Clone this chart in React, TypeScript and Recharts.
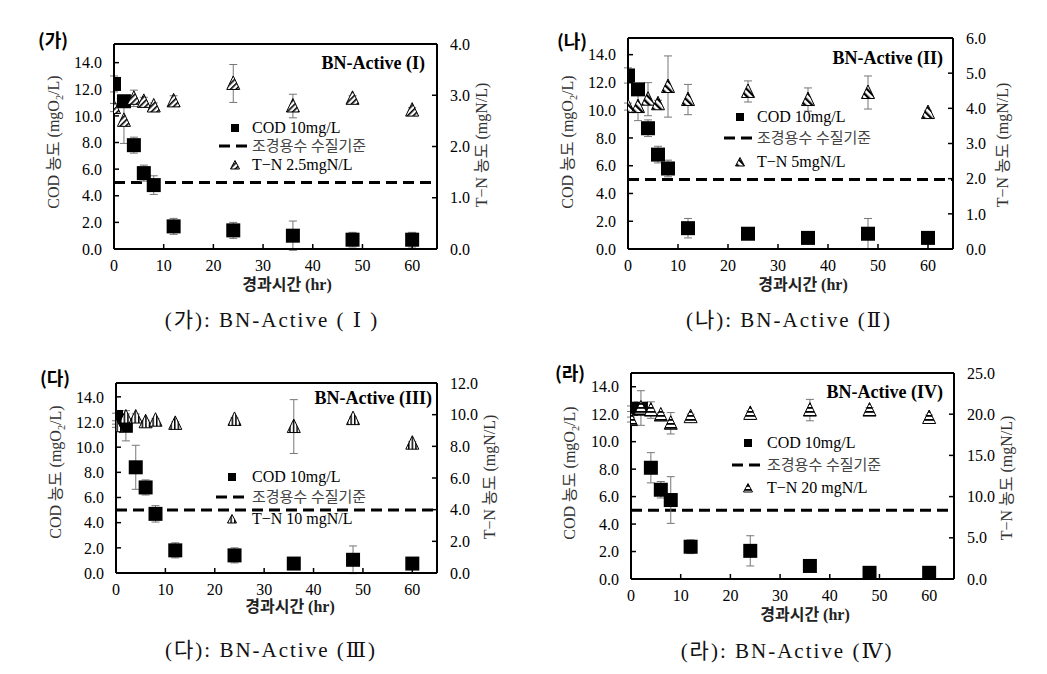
import React from 'react';
import { ScatterChart, Scatter, XAxis, YAxis, ErrorBar, ReferenceLine } from 'recharts';

// sampling times (hr)
const hours = [0, 2, 4, 6, 8, 12, 24, 36, 48, 60];
const xTicks = [0, 10, 20, 30, 40, 50, 60];
const codTicks = [0, 2, 4, 6, 8, 10, 12, 14];
const codLimit = 5; // 조경용수 수질기준

// (가) BN-Active (I)
const cod1 = [12.4, 11.1, 7.8, 5.7, 4.8, 1.7, 1.4, 1.0, 0.7, 0.7];
const cod1Err = [0.6, 0.3, 0.6, 0.6, 0.7, 0.6, 0.6, 1.1, 0.55, 0.55];
const tn1 = [2.76, 2.51, 2.94, 2.88, 2.79, 2.89, 3.23, 2.79, 2.94, 2.71];
const tn1Err = [0.08, 0.45, 0.16, 0.08, 0.06, 0.1, 0.37, 0.23, 0.05, 0.05];
const tn1Ticks = [0, 1, 2, 3, 4];

// (나) BN-Active (II)
const cod2 = [12.5, 11.5, 8.7, 6.8, 5.8, 1.5, 1.1, 0.8, 1.1, 0.8];
const cod2Err = [0.55, 0.3, 0.6, 0.6, 0.6, 0.7, 0.3, 0.3, 1.1, 0.3];
const tn2 = [4.05, 4.05, 4.26, 4.13, 4.62, 4.25, 4.48, 4.25, 4.45, 3.88];
const tn2Err = [0.1, 0.4, 0.47, 0.1, 0.87, 0.43, 0.3, 0.33, 0.47, 0.05];
const tn2Ticks = [0, 1, 2, 3, 4, 5, 6];

// (다) BN-Active (III)
const cod3 = [12.4, 11.7, 8.4, 6.8, 4.7, 1.8, 1.4, 0.75, 1.05, 0.75];
const cod3Err = [0.3, 1.2, 1.75, 0.6, 0.65, 0.6, 0.6, 0.2, 1.1, 0.2];
const tn3 = [9.3, 9.85, 9.85, 9.55, 9.65, 9.45, 9.7, 9.25, 9.75, 8.2];
const tn3Err = [0.1, 0.2, 0.2, 0.1, 0.1, 0.1, 0.1, 1.7, 0.1, 0.1];
const tn3Ticks = [0, 2, 4, 6, 8, 10, 12];

// (라) BN-Active (IV)
const cod4 = [12.4, 12.4, 8.1, 6.5, 5.75, 2.35, 2.05, 0.95, 0.45, 0.45];
const cod4Err = [0.2, 0.2, 1.1, 0.6, 1.7, 0.5, 1.1, 0.2, 0.2, 0.2];
const tn4 = [19.35, 20.75, 20.5, 19.9, 18.9, 19.7, 20.1, 20.5, 20.5, 19.6];
const tn4Err = [0.3, 2.1, 1.0, 0.3, 1.3, 0.3, 0.3, 1.3, 0.3, 0.3];
const tn4Ticks = [0, 5, 10, 15, 20, 25];

const serif = "'Liberation Serif', 'DejaVu Serif', 'Noto Sans CJK KR', serif";
const sans = "'Noto Sans CJK KR', 'Noto Sans', sans-serif";

const axisStyle = { stroke: '#000', strokeWidth: 2 };
const tickStyle = { stroke: '#000', strokeWidth: 1.5 };

// custom tick so the serif face is applied through CSS
const makeTick = (dy: string, fmt: (v: number) => string) => (props: any) => (
  <text
    x={props.x}
    y={props.y}
    dy={dy}
    textAnchor={props.textAnchor}
    fill="#000"
    style={{ fontFamily: serif, fontSize: 16 }}
  >
    {fmt(props.payload.value)}
  </text>
);
const xTick = makeTick('0.71em', (v) => String(v));
const yTick = makeTick('0.355em', (v) => v.toFixed(1));

function Txt({ x, y, anchor = 0, children, style }: any) {
  return (
    <div
      style={{
        position: 'absolute',
        left: x,
        top: y,
        transform: `translate(${-anchor}%, -50%)`,
        whiteSpace: 'nowrap',
        lineHeight: 1,
        fontFamily: serif,
        ...style,
      }}
    >
      {children}
    </div>
  );
}

function VTxt({ x, y, children, style }: any) {
  return (
    <div
      style={{
        position: 'absolute',
        left: x,
        top: y,
        transform: 'translate(-50%, -50%) rotate(-90deg)',
        whiteSpace: 'nowrap',
        lineHeight: 1,
        fontFamily: serif,
        fontSize: 16,
        color: '#333',
        ...style,
      }}
    >
      {children}
    </div>
  );
}

const squareShape = (props: any) => (
  <rect x={props.cx - 7} y={props.cy - 7} width={14} height={14} fill="#000" />
);

const triangleShape = (pattern: string) => (props: any) => (
  <path
    d={`M${props.cx},${props.cy - 7.5} L${props.cx + 6.5},${props.cy + 6} L${props.cx - 6.5},${props.cy + 6} Z`}
    fill={`url(#${pattern})`}
    stroke="#000"
    strokeWidth={1}
  />
);

type PanelProps = {
  left: number; top: number; right: number; bottom: number;
  cod: number[]; codErr: number[]; tn: number[]; tnErr: number[];
  codMax: number; tnMax: number; tnTicks: number[];
  pattern: string; title: string; tag: string; tagX: number; tagY: number;
  caption: string; capX: number; capY: number;
  tnLegend: string;
  lg: { mx: number; tx: number; y1: number; y2: number; y3: number };
  codLabel: { x: number; y: number };
  tnLabel: { x: number; y: number };
  xLabel: { x: number; y: number };
  titleX: number; titleY: number;
};

function Panel(p: PanelProps) {
  const w = p.right - p.left + 100;
  const h = p.bottom - p.top + 45;
  const codRows = hours.map((x, i) => ({ x, y: p.cod[i], err: p.codErr[i] }));
  const tnRows = hours.map((x, i) => ({ x, y: p.tn[i], err: p.tnErr[i] }));
  return (
    <>
      <div style={{ position: 'absolute', left: p.left - 50, top: p.top - 10 }}>
        <ScatterChart width={w} height={h} margin={{ top: 10, right: 0, bottom: 0, left: 0 }}>
          <XAxis
            type="number"
            dataKey="x"
            domain={[0, 65]}
            ticks={xTicks}
            interval={0}
            height={35}
            tickSize={-5}
            tickMargin={16}
            axisLine={axisStyle}
            tickLine={tickStyle}
            tick={xTick}
            allowDataOverflow
          />
          <YAxis
            yAxisId="cod"
            type="number"
            dataKey="y"
            domain={[0, p.codMax]}
            ticks={codTicks}
            interval={0}
            width={50}
            tickSize={-5}
            tickMargin={17}
            axisLine={axisStyle}
            tickLine={tickStyle}
            tick={yTick}
            allowDataOverflow
          />
          <YAxis
            yAxisId="tn"
            orientation="right"
            type="number"
            dataKey="y"
            domain={[0, p.tnMax]}
            ticks={p.tnTicks}
            interval={0}
            width={50}
            tickSize={-5}
            tickMargin={18}
            axisLine={axisStyle}
            tickLine={tickStyle}
            tick={yTick}
            allowDataOverflow
          />
          <ReferenceLine yAxisId="cod" y={p.codMax} stroke="#000" strokeWidth={2} />
          <ReferenceLine yAxisId="cod" y={codLimit} stroke="#000" strokeWidth={3} strokeDasharray="11 6" />
          <Scatter yAxisId="cod" data={codRows} shape={squareShape} isAnimationActive={false}>
            <ErrorBar dataKey="err" direction="y" width={4} stroke="#777" strokeWidth={1} isAnimationActive={false} />
          </Scatter>
          <Scatter yAxisId="tn" data={tnRows} shape={triangleShape(p.pattern)} isAnimationActive={false}>
            <ErrorBar dataKey="err" direction="y" width={4} stroke="#777" strokeWidth={1} isAnimationActive={false} />
          </Scatter>
        </ScatterChart>
      </div>

      <Txt x={p.tagX} y={p.tagY} style={{ fontFamily: sans, fontWeight: 700, fontSize: 18 }}>{p.tag}</Txt>
      <Txt x={p.titleX} y={p.titleY} anchor={100} style={{ fontWeight: 700, fontSize: 18 }}>{p.title}</Txt>

      {/* legend */}
      <svg style={{ position: 'absolute', left: p.lg.mx - 16, top: p.lg.y1 - 6, overflow: 'visible' }} width={32} height={p.lg.y3 - p.lg.y1 + 12}>
        <rect x={12} y={2} width={8} height={8} fill="#000" />
        <line x1={0} x2={29} y1={p.lg.y2 - p.lg.y1 + 6} y2={p.lg.y2 - p.lg.y1 + 6} stroke="#000" strokeWidth={3} strokeDasharray="11 6" />
        <path
          d={`M16,${p.lg.y3 - p.lg.y1 + 1.5} L20.5,${p.lg.y3 - p.lg.y1 + 10} L11.5,${p.lg.y3 - p.lg.y1 + 10} Z`}
          fill={`url(#${p.pattern})`}
          stroke="#000"
          strokeWidth={1}
        />
      </svg>
      <Txt x={p.lg.tx} y={p.lg.y1} style={{ fontSize: 16 }}>COD 10mg/L</Txt>
      <Txt x={p.lg.tx} y={p.lg.y2} style={{ fontSize: 15, color: '#444' }}>조경용수 수질기준</Txt>
      <Txt x={p.lg.tx} y={p.lg.y3} style={{ fontSize: 16 }}>{p.tnLegend}</Txt>

      <VTxt x={p.codLabel.x} y={p.codLabel.y}>
        COD 농도 (mgO<span style={{ fontSize: '0.65em', verticalAlign: 'sub' }}>2</span>/L)
      </VTxt>
      <VTxt x={p.tnLabel.x} y={p.tnLabel.y}>T−N 농도 (mgN/L)</VTxt>
      <Txt x={p.xLabel.x} y={p.xLabel.y} anchor={50} style={{ fontSize: 16, fontWeight: 700, color: '#222' }}>
        경과시간 (hr)
      </Txt>
      <Txt x={p.capX} y={p.capY} anchor={50} style={{ fontSize: 21, letterSpacing: 2, color: '#111' }}>
        {p.caption}
      </Txt>
    </>
  );
}

export default function App() {
  return (
    <div style={{ position: 'absolute', left: 0, top: 0, width: 1047, height: 674, background: '#fff', overflow: 'hidden' }}>
      <svg width={0} height={0} style={{ position: 'absolute' }}>
        <defs>
          <pattern id="hatch1" width="4" height="4" patternUnits="userSpaceOnUse" patternTransform="rotate(45)">
            <rect width="4" height="4" fill="#fff" />
            <rect width="1.6" height="4" fill="#000" />
          </pattern>
          <pattern id="hatch2" width="5" height="5" patternUnits="userSpaceOnUse" patternTransform="rotate(-45)">
            <rect width="5" height="5" fill="#fff" />
            <rect width="2.3" height="5" fill="#000" />
          </pattern>
          <pattern id="hatch3" width="3.6" height="3.6" patternUnits="userSpaceOnUse">
            <rect width="3.6" height="3.6" fill="#fff" />
            <rect width="1.5" height="3.6" fill="#000" />
          </pattern>
          <pattern id="hatch4" width="4" height="4" patternUnits="userSpaceOnUse" patternTransform="rotate(90)">
            <rect width="4" height="4" fill="#fff" />
            <rect width="1.8" height="4" fill="#000" />
          </pattern>
        </defs>
      </svg>

      <Panel
        left={114} top={44} right={437} bottom={249}
        cod={cod1} codErr={cod1Err} tn={tn1} tnErr={tn1Err}
        codMax={15.4} tnMax={4} tnTicks={tn1Ticks}
        pattern="hatch1" title="BN-Active (I)" titleX={425} titleY={63}
        tag="(가)" tagX={38} tagY={39}
        tnLegend="T−N 2.5mgN/L"
        lg={{ mx: 235, tx: 252, y1: 128, y2: 146, y3: 165 }}
        codLabel={{ x: 56, y: 142 }} tnLabel={{ x: 482, y: 145 }} xLabel={{ x: 287, y: 285 }}
        caption="(가): BN-Active ( Ⅰ )" capX={272} capY={320}
      />
      <Panel
        left={628} top={38} right={953} bottom={249}
        cod={cod2} codErr={cod2Err} tn={tn2} tnErr={tn2Err}
        codMax={15.2} tnMax={6} tnTicks={tn2Ticks}
        pattern="hatch2" title="BN-Active (II)" titleX={943} titleY={58}
        tag="(나)" tagX={557} tagY={40}
        tnLegend="T−N 5mgN/L"
        lg={{ mx: 740, tx: 757, y1: 117, y2: 138, y3: 162 }}
        codLabel={{ x: 570, y: 142 }} tnLabel={{ x: 1003, y: 145 }} xLabel={{ x: 803, y: 285 }}
        caption="(나): BN-Active (Ⅱ)" capX={789} capY={320}
      />
      <Panel
        left={116} top={383} right={437} bottom={573}
        cod={cod3} codErr={cod3Err} tn={tn3} tnErr={tn3Err}
        codMax={15.1} tnMax={12} tnTicks={tn3Ticks}
        pattern="hatch3" title="BN-Active (III)" titleX={432} titleY={398}
        tag="(다)" tagX={40} tagY={377}
        tnLegend="T−N 10 mgN/L"
        lg={{ mx: 232, tx: 252, y1: 477, y2: 497, y3: 519 }}
        codLabel={{ x: 58, y: 472 }} tnLabel={{ x: 490, y: 477 }} xLabel={{ x: 290, y: 607 }}
        caption="(다): BN-Active (Ⅲ)" capX={271} capY={650}
      />
      <Panel
        left={631} top={373} right={954} bottom={579}
        cod={cod4} codErr={cod4Err} tn={tn4} tnErr={tn4Err}
        codMax={15.0} tnMax={25} tnTicks={tn4Ticks}
        pattern="hatch4" title="BN-Active (IV)" titleX={943} titleY={392}
        tag="(라)" tagX={555} tagY={372}
        tnLegend="T−N 20 mgN/L"
        lg={{ mx: 748, tx: 767, y1: 443, y2: 465, y3: 488 }}
        codLabel={{ x: 572, y: 473 }} tnLabel={{ x: 1007, y: 478 }} xLabel={{ x: 805, y: 615 }}
        caption="(라): BN-Active (Ⅳ)" capX={787} capY={651}
      />
    </div>
  );
}
